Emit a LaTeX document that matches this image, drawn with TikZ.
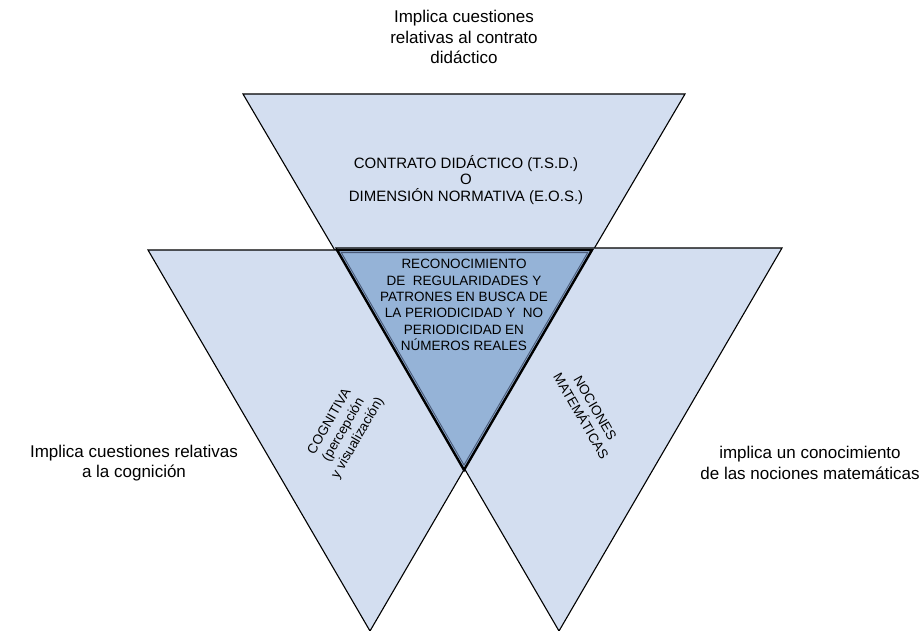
\documentclass[tikz,border=0pt]{standalone}
\usepackage{fontspec}
\setmainfont{Liberation Sans}
\definecolor{lightblue}{HTML}{D3DEF0}
\definecolor{darkblue}{HTML}{95B3D7}
\definecolor{edgeblue}{HTML}{4A5A78}
\begin{document}
\begin{tikzpicture}[x=1pt,y=-1pt,
  tri/.style={draw=black, line width=1.1pt, fill=lightblue, line join=miter},
  bigtext/.style={align=center, font=\fontsize{17}{20.5}\selectfont, inner sep=0pt},
  midtext/.style={align=center, font=\fontsize{15}{16.6}\selectfont, inner sep=0pt},
  smalltext/.style={align=center, font=\fontsize{13.5}{16.3}\selectfont, inner sep=0pt}]
\useasboundingbox (0,0) rectangle (924,631);
% triangles
\coordinate (tA) at (243,94); \coordinate (tB) at (685,94); \coordinate (tC) at (464,470);
\coordinate (lA) at (148,250); \coordinate (lB) at (592,250); \coordinate (lC) at (370,631);
\coordinate (rA) at (336,248); \coordinate (rB) at (782,248); \coordinate (rC) at (559,631);
\coordinate (cA) at (337,250); \coordinate (cB) at (592,250); \coordinate (cC) at (464,470);
\draw[tri] (tA) -- (tB) -- (tC) -- cycle;
\draw[tri] (lA) -- (lB) -- (lC) -- cycle;
\draw[tri] (rA) -- (rB) -- (rC) -- cycle;
\draw[draw=black, line width=2.4pt, fill=darkblue, line join=miter] (cA) -- (cB) -- (cC) -- cycle;
\coordinate (iA) at (341.3,252.6); \coordinate (iB) at (587.7,252.6); \coordinate (iC) at (464,465);
\draw[edgeblue, line width=0.9pt] (iA) -- (iB) -- (iC) -- cycle;
% texts
\node[bigtext] (toptext) at (464,37) {Implica cuestiones\\relativas al contrato\\didáctico};
\node[bigtext] (lefttext) at (134,463) {Implica cuestiones relativas\\a la cognición};
\node[bigtext] (righttext) at (810,463) {implica un conocimiento\\de las nociones matemáticas};
\node[midtext] (contrato) at (466,180) {CONTRATO DIDÁCTICO (T.S.D.)\\O\\DIMENSIÓN NORMATIVA (E.O.S.)};
\node[smalltext] (centro) at (464,305) {RECONOCIMIENTO\\DE \ REGULARIDADES Y\\PATRONES EN BUSCA DE\\LA PERIODICIDAD Y \ NO\\PERIODICIDAD EN\\NÚMEROS REALES};
\node[smalltext, rotate=60] (cogn) at (344,430) {COGNITIVA\\(percepción\\y visualización)};
\node[smalltext, rotate=-60] (noc) at (588,412) {NOCIONES\\MATEMÁTICAS};
\end{tikzpicture}
\end{document}
